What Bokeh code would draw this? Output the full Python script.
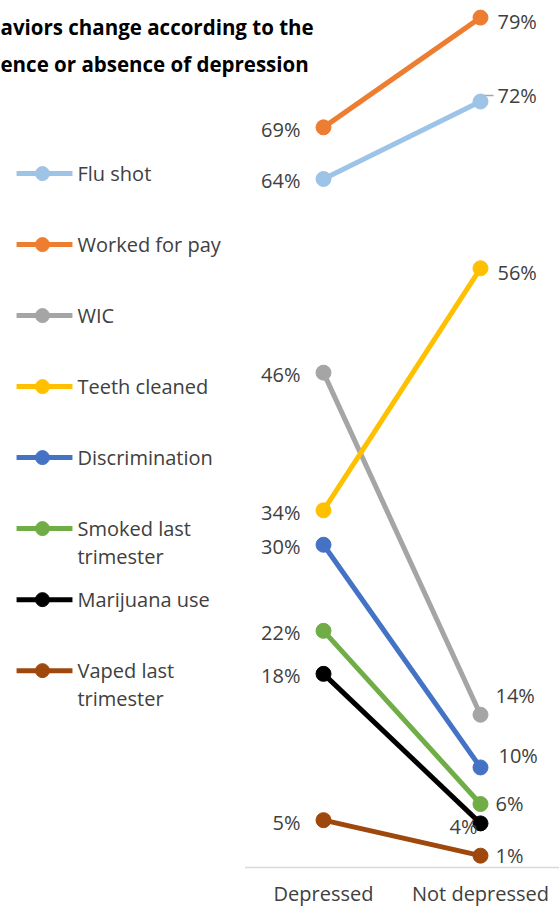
from bokeh.plotting import figure
from bokeh.models import Range1d, ColumnDataSource
from bokeh.core.properties import value
from bokeh.embed import file_html
from bokeh.resources import INLINE

# ---------------- data ----------------
title_lines = ["aviors change according to the", "ence or absence of depression"]
categories = ["Depressed", "Not depressed"]
series = ["Flu shot", "Worked for pay", "WIC", "Teeth cleaned", "Discrimination",
          "Smoked last\ntrimester", "Marijuana use", "Vaped last\ntrimester"]
depressed = [64.0, 68.8, 46.0, 33.2, 30.0, 22.0, 18.0, 4.4]
not_depressed = [71.2, 79.0, 14.2, 55.7, 9.3, 5.9, 4.1, 1.1]
labels_depressed = ["64%", "69%", "46%", "34%", "30%", "22%", "18%", "5%"]
labels_not_depressed = ["72%", "79%", "14%", "56%", "10%", "6%", "4%", "1%"]

# ---------------- styles ----------------
colors = ["#9DC3E6", "#ED7D31", "#A5A5A5", "#FFC000", "#4472C4", "#70AD47", "#000000", "#9E480E"]
FONT = "Open Sans"
TXT = "#404040"
FS = "20px"
# label nudges (pixels) for the right-hand labels
right_dx = [17, 17, 15, 17, 18, 15, -3, 15]
right_dy = [-6, 4, -19, 4, -12, -1, 3, 0]
right_align = ["left", "left", "left", "left", "left", "left", "right", "left"]

n = len(series)
xi = list(range(len(categories)))

W, H = 560, 912
PX_X = 157.0          # pixels per category step
X0_PX = 323.0         # pixel position of first category
PX_PER_UNIT = 10.758  # pixels per percentage point
Y0_PX = 867.0         # pixel position of 0 %
x_start = -X0_PX / PX_X
x_end = (W - X0_PX) / PX_X
y_top = Y0_PX / PX_PER_UNIT
y_bot = y_top - H / PX_PER_UNIT

p = figure(width=W, height=H, output_backend="svg", toolbar_location=None,
           x_range=Range1d(x_start, x_end), y_range=Range1d(y_bot, y_top),
           x_axis_location=None, y_axis_location=None, min_border=0,
           outline_line_color=None, background_fill_color="white")
p.grid.visible = False

# baseline (category axis line)
p.segment(x0=[xi[0] - 0.5], y0=[0], x1=[xi[-1] + 0.5], y1=[0], line_color="#D9D9D9", line_width=1.5)

# category labels
p.text(x=xi, y=[0] * len(xi), text=categories, y_offset=26, text_align="center",
       text_baseline="middle", text_font=value(FONT), text_font_size=FS, text_color=TXT)

# leader line of the first right-hand label (Flu shot)
lx, ly = xi[1], not_depressed[0]
p.line(x=[lx + 2 / PX_X, lx + 2 / PX_X, lx + 13 / PX_X],
       y=[ly + 2 / PX_PER_UNIT, ly + 6 / PX_PER_UNIT, ly + 6 / PX_PER_UNIT],
       line_color="#A6A6A6", line_width=1.5)

# slope lines and markers
for i in range(n):
    p.line(x=xi, y=[depressed[i], not_depressed[i]], line_color=colors[i], line_width=5)
    p.scatter(x=xi, y=[depressed[i], not_depressed[i]], size=15, fill_color=colors[i],
              line_color=colors[i])

# left labels
src_l = ColumnDataSource(dict(x=[xi[0]] * n, y=depressed, t=labels_depressed))
p.text(x="x", y="y", text="t", source=src_l, x_offset=-23, y_offset=2,
       text_align="right", text_baseline="middle", text_font=value(FONT),
       text_font_size=FS, text_color=TXT)

# right labels
src_r = ColumnDataSource(dict(x=[xi[1]] * n, y=not_depressed, t=labels_not_depressed,
                              dx=right_dx, dy=right_dy, al=right_align))
p.text(x="x", y="y", text="t", source=src_r, x_offset="dx", y_offset="dy",
       text_align="al", text_baseline="middle", text_font=value(FONT),
       text_font_size=FS, text_color=TXT)

# legend (manual)
legend_top, legend_step = 64.5, 6.6
leg_y = [legend_top - k * legend_step for k in range(n)]
p.segment(x0=[-1.955] * n, x1=[-1.599] * n, y0=leg_y, y1=leg_y, line_color=colors, line_width=5)
p.scatter(x=[-1.79] * n, y=leg_y, size=14, fill_color=colors, line_color=colors)
leg_off = [14 * s.count("\n") for s in series]
src_leg = ColumnDataSource(dict(x=[-1.567] * n, y=leg_y, t=series, dy=leg_off))
p.text(x="x", y="y", text="t", source=src_leg, y_offset="dy", text_align="left",
       text_baseline="middle", text_line_height=1.05, text_font=value(FONT),
       text_font_size=FS, text_color=TXT)

# title
p.text(x=[x_start, x_start], y=[y_top, y_top], text=title_lines, x_offset=0, y_offset=[26, 63],
       text_align="left", text_baseline="alphabetic", text_font=value(FONT),
       text_font_style="bold", text_font_size="20.5px", text_color="#000000")

open("out.html", "w").write(file_html(p, INLINE))
